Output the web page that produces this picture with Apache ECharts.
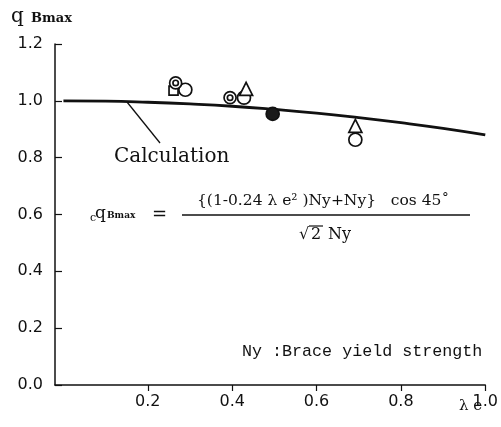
<!DOCTYPE html>
<html>
<head>
<meta charset="utf-8">
<script src="https://cdn.jsdelivr.net/npm/echarts@6/dist/echarts.min.js"></script>
<style>
  html, body { margin: 0; padding: 0; background: #fff; }
  #chart { width: 501px; height: 427px; }
</style>
</head>
<body>
<div id="chart"></div>
<script>
// calculation curve
const calcX = [0, 0.1, 0.2, 0.3, 0.4, 0.5, 0.6, 0.7, 0.8, 0.9, 1.0]
const calcY = [1.0, 0.999, 0.995, 0.989, 0.981, 0.970, 0.957, 0.941, 0.923, 0.903, 0.880]

// test results, one array per marker type
const doubleCircle = [[0.266, 1.063], [0.395, 1.011]]
const openSquare = [[0.261, 1.036]]
const openCircle = [[0.289, 1.039], [0.428, 1.011], [0.692, 0.863]]
const openTriangle = [[0.433, 1.042], [0.692, 0.912]]
const filledCircle = [[0.496, 0.954]]

const xTicks = [0.2, 0.4, 0.6, 0.8, 1.0]
const yMin = 0, yMax = 1.2, yStep = 0.2

const ink = "#111"
const numFont = "DejaVu Sans"
const serif = "DejaVu Serif"

const chart = echarts.init(document.getElementById("chart"))

const ringPath = "path://M0,-10A10,10,0,1,1,0,10A10,10,0,1,1,0,-10ZM0,-4.5A4.5,4.5,0,1,1,0,4.5A4.5,4.5,0,1,1,0,-4.5Z"

function txt(x, y, text, size, family, weight) {
  return {
    type: "text", x: x, y: y,
    style: {text: text, font: (weight || "") + " " + size + "px '" + family + "'", fill: ink, textVerticalAlign: "middle"},
  }
}

function marks(data, symbol, size, fill, z) {
  return {
    type: "scatter", data: data, symbol: symbol, symbolSize: size, z: z,
    itemStyle: {color: fill, borderColor: ink, borderWidth: 1.7, opacity: 1},
    emphasis: {disabled: true},
  }
}

chart.setOption({
  backgroundColor: "#fff",
  animation: false,
  grid: {left: 55, right: 13, top: 44, bottom: 42},
  xAxis: {
    type: "value",
    min: -0.02,
    max: 1.0,
    splitLine: {show: false},
    axisLine: {onZero: false, lineStyle: {color: ink, width: 1.5}},
    axisTick: {show: true, inside: false, length: 6, customValues: xTicks, lineStyle: {color: ink, width: 1.2}},
    axisLabel: {
      customValues: xTicks, margin: 9, color: ink, fontSize: 16, fontFamily: numFont,
      formatter: v => v.toFixed(1),
    },
  },
  yAxis: {
    type: "value",
    position: "left",
    min: yMin,
    max: yMax,
    interval: yStep,
    splitLine: {show: false},
    axisLine: {show: true, onZero: false, lineStyle: {color: ink, width: 1.5}},
    axisTick: {show: true, inside: false, length: -7, lineStyle: {color: ink, width: 1.2}},
    axisLabel: {margin: 12, color: ink, fontSize: 16, fontFamily: numFont, formatter: v => v.toFixed(1)},
  },
  series: [
    {
      type: "line",
      data: calcX.map((x, i) => [x, calcY[i]]),
      smooth: true,
      showSymbol: false,
      lineStyle: {color: ink, width: 2.8},
      z: 1,
    },
    marks(openSquare, "rect", 9, "#fff", 2),
    marks(openCircle, "circle", 13, "#fff", 3),
    marks(openTriangle, "triangle", [13, 13], "#fff", 4),
    marks(doubleCircle, ringPath, 12, "#fff", 5),
    marks(filledCircle, "circle", 13, "#1a1a1a", 5),
  ],
  graphic: [
    // y axis title
    txt(11, 17, "q", 20, serif),
    txt(31, 19, "Bmax", 13, serif, "bold"),
    // x axis title
    txt(459, 406, "λ e", 15, serif),
    // calculation label + leader
    {type: "line", shape: {x1: 127, y1: 102, x2: 160, y2: 143}, style: {stroke: ink, lineWidth: 1.3}},
    txt(114, 157, "Calculation", 20, serif),
    // formula
    txt(90, 218, "c", 11, serif),
    txt(95, 214, "q", 17, serif),
    txt(107, 216, "Bmax", 9, serif, "bold"),
    txt(152, 215, "=", 18, serif),
    txt(197, 201, "{(1-0.24 λ e² )Ny+Ny}   cos 45˚", 15.5, serif),
    {type: "line", shape: {x1: 182, y1: 215, x2: 470, y2: 215}, style: {stroke: ink, lineWidth: 1.4}},
    txt(299, 235, "√", 16, serif),
    {type: "line", shape: {x1: 309, y1: 226, x2: 323, y2: 226}, style: {stroke: ink, lineWidth: 1.2}},
    txt(311, 235, "2", 16, serif),
    txt(328, 235, "Ny", 16, serif),
    // note
    txt(242, 352, "Ny :Brace yield strength", 16.7, "Liberation Mono"),
  ],
})
</script>
</body>
</html>
